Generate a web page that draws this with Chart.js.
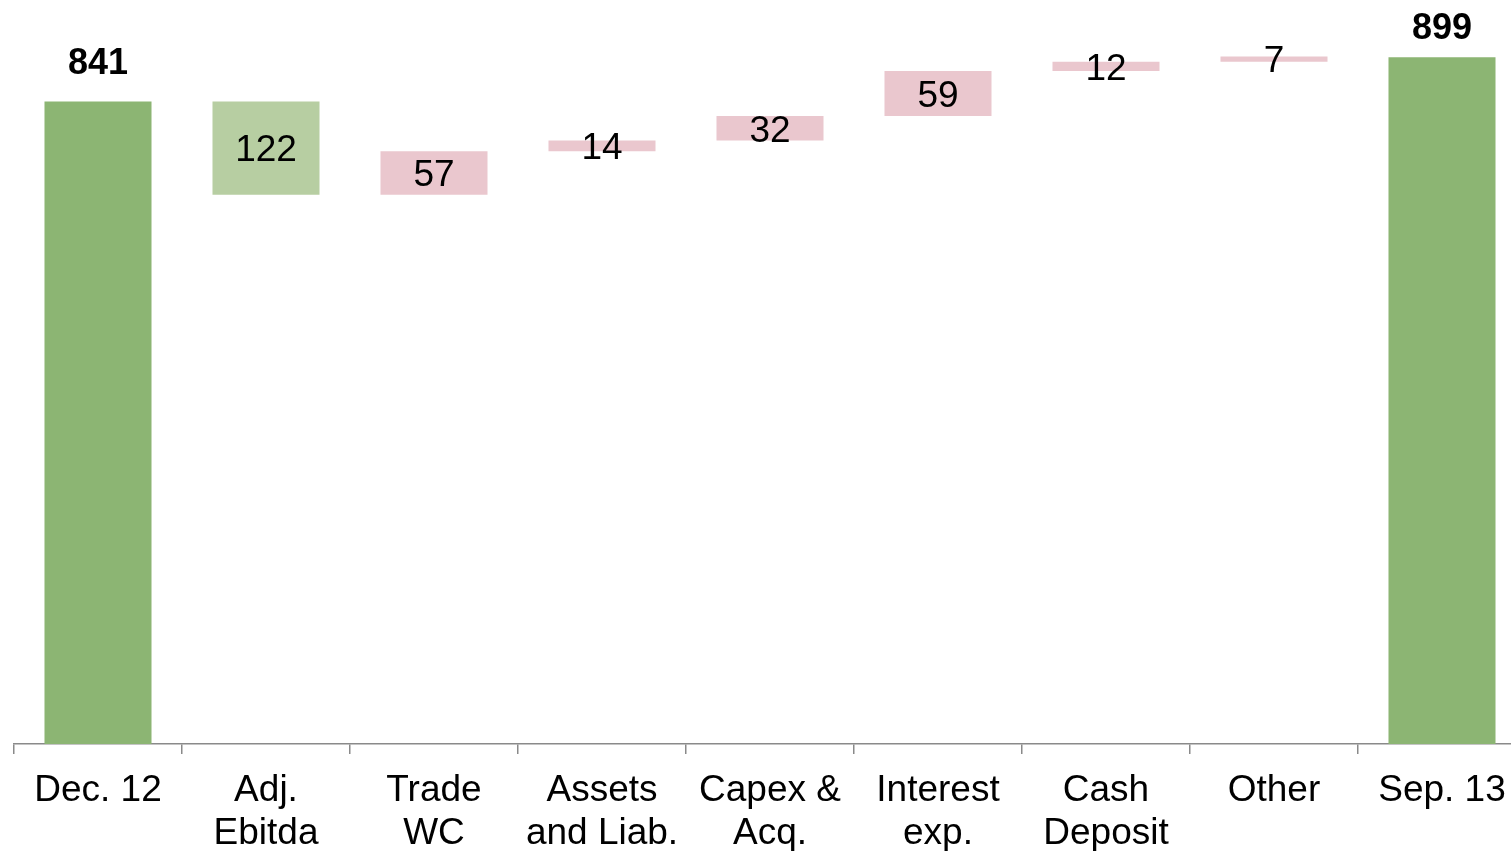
<!DOCTYPE html>
<html>
<head>
<meta charset="utf-8">
<script src="https://cdn.jsdelivr.net/npm/chart.js@4"></script>
<style>
  html, body { margin: 0; padding: 0; background: #fff; overflow: hidden; }
  #wrap { position: relative; width: 1526px; height: 851px; }
</style>
</head>
<body>
<div id="wrap"><canvas id="bridgeChart"></canvas></div>
<script>
// Net debt bridge, Dec. 12 -> Sep. 13
const categories = [['Dec. 12'], ['Adj.', 'Ebitda'], ['Trade', 'WC'], ['Assets', 'and Liab.'],
    ['Capex &', 'Acq.'], ['Interest', 'exp.'], ['Cash', 'Deposit'], ['Other'], ['Sep. 13']];
const openingValue = 841;
const changes = [-122, 57, 14, 32, 59, 12, 7];
const closingValue = 899;

const FONT = '"Liberation Sans", Arial, sans-serif';

// floating bars: [from, to] for each step, totals start at zero
const bars = [[0, openingValue]];
let level = openingValue;
changes.forEach(c => {
    bars.push([level, level + c]);
    level += c;
});
bars.push([0, closingValue]);

const barLabels = [openingValue, ...changes.map(Math.abs), closingValue];
const lastIdx = bars.length - 1;
const barColors = bars.map((b, i) => {
    if (i === 0 || i === lastIdx) return '#8cb573';
    return changes[i - 1] < 0 ? '#b7cea2' : '#eac7ce';
});

const valueLabels = {
    id: 'valueLabels',
    afterDatasetsDraw(chart) {
        const ctx = chart.ctx;
        const meta = chart.getDatasetMeta(0);
        ctx.save();
        ctx.fillStyle = '#000';
        ctx.textAlign = 'center';
        ctx.textBaseline = 'middle';
        meta.data.forEach((bar, i) => {
            const top = Math.min(bar.y, bar.base);
            const bottom = Math.max(bar.y, bar.base);
            if (i === 0 || i === lastIdx) {
                ctx.font = 'bold 36px ' + FONT;
                ctx.fillText(barLabels[i], bar.x, Math.max(top - 38, 29));
            } else {
                ctx.font = '37px ' + FONT;
                ctx.fillText(barLabels[i], bar.x, (top + bottom) / 2 + 3);
            }
        });
        ctx.restore();
    }
};

const ctx = document.getElementById('bridgeChart').getContext('2d');
const bridgeChart = new Chart(ctx, {
    type: 'bar',
    data: {
        labels: categories,
        datasets: [{
            data: bars,
            backgroundColor: barColors,
            borderWidth: 0,
            borderSkipped: false,
            barPercentage: 0.637,
            categoryPercentage: 1
        }]
    },
    options: {
        responsive: true,
        maintainAspectRatio: false,
        animation: false,
        layout: { padding: { left: 14, right: 0, top: 0, bottom: 0 } },
        plugins: {
            legend: { display: false },
            tooltip: { enabled: false }
        },
        scales: {
            y: {
                display: false,
                min: 0,
                max: 974
            },
            x: {
                afterFit(scale) { scale.height = 107; },
                border: { display: true, color: '#8a8a8a', width: 1.5 },
                grid: {
                    offset: true,
                    drawOnChartArea: false,
                    drawTicks: true,
                    tickLength: 10,
                    color: '#8a8a8a',
                    lineWidth: 1.5
                },
                ticks: {
                    color: '#000',
                    font: { family: FONT, size: 37, lineHeight: 1.16 },
                    padding: 15,
                    maxRotation: 0,
                    autoSkip: false
                }
            }
        }
    },
    plugins: [valueLabels]
});
</script>
</body>
</html>
